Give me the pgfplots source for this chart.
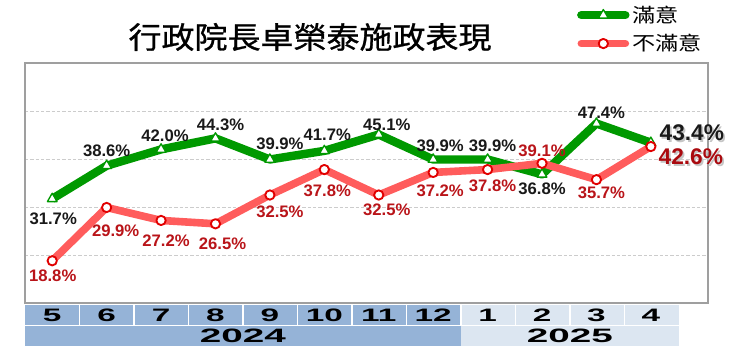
\documentclass[border=0pt]{standalone}
\usepackage{pgfplots}
\pgfplotsset{compat=1.18}
\usepackage{pgfplotstable}
\usepackage{fontspec}
\usepackage{graphicx}
\setmainfont{Liberation Sans}
\newfontfamily\cjk{Noto Sans CJK TC}
\newfontfamily\cjkt[FakeBold=0.9]{Noto Sans CJK TC}
\definecolor{sgreen}{RGB}{0,153,0}
\definecolor{sred}{RGB}{255,92,92}
\definecolor{sredm}{RGB}{225,0,0}
\definecolor{lblred}{RGB}{185,20,25}
\definecolor{bigred}{RGB}{170,10,15}
\definecolor{cdark}{RGB}{149,179,215}
\definecolor{clight}{RGB}{220,230,241}
\newcommand{\mlab}[1]{\scalebox{1.85}[1]{#1}}

\pgfplotstableread{
x y dx dy
0 31.7 1 -19.5
1 38.6 0 14.5
2 42.0 4 13.5
3 44.3 5 13.5
4 39.9 10 16
5 41.7 3 16.5
6 45.1 8 10
7 39.9 7 13.5
8 39.9 5 13.5
9 36.8 0 -14
10 47.4 5 11
11 43.4 41 9.5
}\sat

\pgfplotstableread{
x y dx dy
0 18.8 0.5 -15
1 29.9 9 -23
2 27.2 5 -20
3 26.5 7 -19.5
4 32.5 10 -16.5
5 37.8 3 -21
6 32.5 8 -15
7 37.2 7 -18
8 37.8 5 -16
9 39.1 0 13
10 35.7 5 -13.5
11 42.6 40 -10.5
}\dis

\begin{document}
\begin{tikzpicture}
\begin{scope}[x=0.75pt,y=0.75pt]
\path[use as bounding box] (0,0) rectangle (746,353);
% month / year table background
\fill[cdark] (25,7) rectangle (461,48);
\fill[clight] (461,7) rectangle (679,48);
\foreach \k in {1,...,11} {
  \draw[white, line width=1.1pt] ({25+54.5*\k},28) -- ({25+54.5*\k},48);
}
\draw[white, line width=0.8pt] (25,27.5) -- (679,27.5);
\node[font=\bfseries\fontsize{14.5}{16}\selectfont] at (243,17) {\scalebox{2}[1]{2024}};
\node[font=\bfseries\fontsize{14.5}{16}\selectfont] at (570,17) {\scalebox{2}[1]{2025}};
% title
\node[font=\cjkt\fontsize{22.5}{26}\selectfont] at (310,316) {\scalebox{1.1}[1]{行政院長卓榮泰施政表現}};
\end{scope}

\begin{axis}[
  at={(18.75pt,37.5pt)}, anchor=south west,
  scale only axis, width=512.25pt, height=180pt,
  xmin=-0.5, xmax=12.05, ymin=10, ymax=60,
  axis line style={draw=gray!75, line width=0.9pt},
  ytick={20,30,40,50}, yticklabels={},
  ymajorgrids, grid style={dash pattern=on 2.5pt off 1.5pt, gray!40, line width=0.6pt},
  major tick length=0pt,
  xtick={0,...,11},
  xticklabels={\mlab{5},\mlab{6},\mlab{7},\mlab{8},\mlab{9},\mlab{10},\mlab{11},\mlab{12},\mlab{1},\mlab{2},\mlab{3},\mlab{4}},
  xticklabel style={anchor=center, yshift=-9pt, font=\bfseries\fontsize{13.5}{15}\selectfont},
  /pgf/number format/assume math mode=true,
  clip=false,
  legend style={at={(0.808,1.25)}, anchor=north west, draw=none, fill=none,
    font=\cjk\fontsize{14.5}{16}\selectfont, row sep=3.5pt, inner sep=0pt,
    /tikz/every even column/.append style={column sep=1pt}},
  legend cell align=left,
  legend image code/.code={\draw[mark repeat=2,mark phase=2,line cap=round,#1] plot coordinates {(0pt,0pt) (16.5pt,0pt) (33pt,0pt)};},
  nodes near coords={\pgfmathprintnumber[fixed,fixed zerofill,precision=1]{\pgfplotspointmeta}\%},
  visualization depends on={\thisrow{dx} \as \dx},
  visualization depends on={\thisrow{dy} \as \dy},
]
% lines
\addplot[sgreen, line width=6.3pt, line join=round, mark=triangle*, mark size=4.2pt,
  mark options={fill=white, draw=sgreen, line width=1pt}, nodes near coords={}] table[x=x,y=y] {\sat};
\addlegendentry{\scalebox{1.2}[1]{滿意}}
\addplot[sred, line width=5.7pt, line join=round, mark=*, mark size=3.5pt,
  mark options={fill=white, draw=sredm, line width=1.4pt}, nodes near coords={}] table[x=x,y=y] {\dis};
\addlegendentry{\scalebox{1.2}[1]{不滿意}}
% labels
\addplot[draw=none, forget plot, skip coords between index={11}{12},
  nodes near coords style={anchor=center, xshift=\dx*0.75pt, yshift=\dy*0.75pt, text=black!90, font=\bfseries\fontsize{12.5}{14}\selectfont}]
  table[x=x,y=y] {\sat};
\addplot[draw=none, forget plot, skip coords between index={11}{12},
  nodes near coords style={anchor=center, xshift=\dx*0.75pt, yshift=\dy*0.75pt, text=lblred, font=\bfseries\fontsize{12.5}{14}\selectfont}]
  table[x=x,y=y] {\dis};
% last (large) labels with shadow
\addplot[draw=none, forget plot, skip coords between index={0}{11},
  nodes near coords style={anchor=center, xshift=\dx*0.75pt+1.3pt, yshift=\dy*0.75pt-1.3pt, text=gray!45, font=\bfseries\fontsize{17}{19}\selectfont}]
  table[x=x,y=y] {\sat};
\addplot[draw=none, forget plot, skip coords between index={0}{11},
  nodes near coords style={anchor=center, xshift=\dx*0.75pt+1.3pt, yshift=\dy*0.75pt-1.3pt, text=gray!45, font=\bfseries\fontsize{17}{19}\selectfont}]
  table[x=x,y=y] {\dis};
\addplot[draw=none, forget plot, skip coords between index={0}{11},
  nodes near coords style={anchor=center, xshift=\dx*0.75pt, yshift=\dy*0.75pt, text=black!90, font=\bfseries\fontsize{17}{19}\selectfont}]
  table[x=x,y=y] {\sat};
\addplot[draw=none, forget plot, skip coords between index={0}{11},
  nodes near coords style={anchor=center, xshift=\dx*0.75pt, yshift=\dy*0.75pt, text=bigred, font=\bfseries\fontsize{17}{19}\selectfont}]
  table[x=x,y=y] {\dis};
\end{axis}
\end{tikzpicture}
\end{document}
